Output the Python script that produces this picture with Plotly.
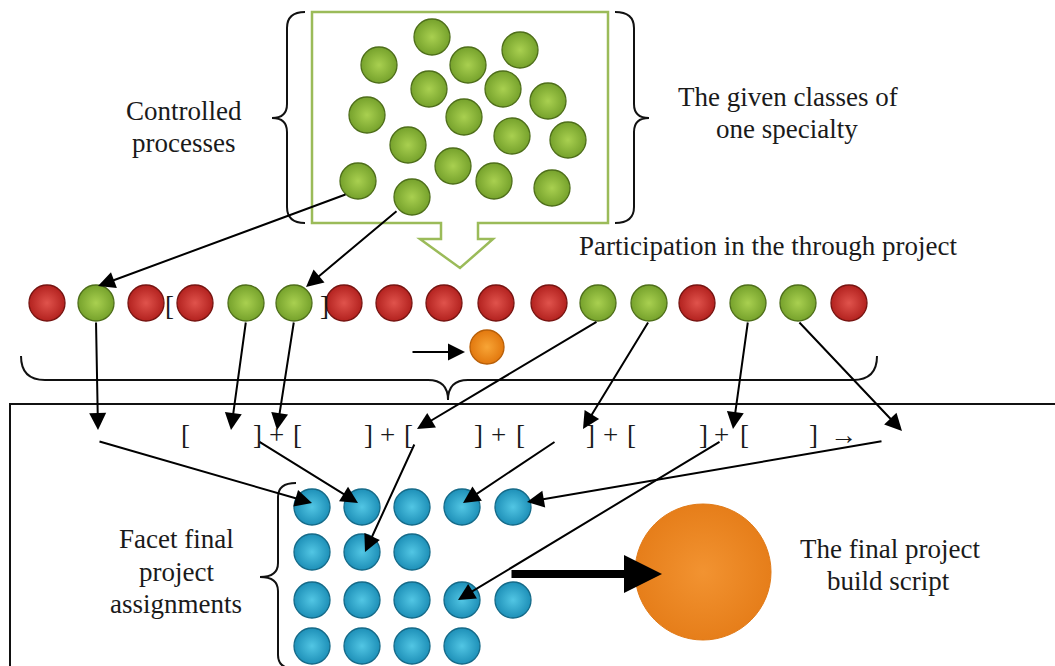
import plotly.graph_objects as go

# ---------------- data (diagram element positions, pixel space) ----------------
cluster_x = [432, 520, 379, 468, 429, 503, 548, 367, 464, 408, 512, 568, 453, 358, 494, 552, 412]
cluster_y = [37, 50, 65, 65, 89, 89, 101, 115, 117, 145, 136, 140, 166, 181, 181, 188, 197]

row_x = [47, 96, 146, 195, 246, 294, 344, 394, 444, 496, 549, 598, 649, 697, 748, 798, 849]
row_kind = ["r", "g", "r", "r", "g", "g", "r", "r", "r", "r", "r", "g", "g", "r", "g", "g", "r"]
row_y = 303

blue_x = [312, 362, 412, 462, 513,
          312, 362, 412,
          312, 362, 412, 462, 513,
          312, 362, 412, 462]
blue_y = [507] * 5 + [552] * 3 + [600] * 5 + [646] * 4

small_orange = (487, 347)
big_orange = (703, 572)

# thin arrows: tail -> head
arr_tail_x = [347, 398, 96, 246, 294, 598, 649, 748, 798, 98, 258, 415, 556, 721, 883, 411]
arr_tail_y = [194, 210, 321, 321, 321, 321, 321, 321, 321, 441, 441, 443, 441, 441, 441, 352]
arr_head_x = [98, 306, 98, 231, 277, 417, 583, 733, 902, 312, 358, 365, 463, 458, 527, 465]
arr_head_y = [286, 287, 430, 430, 430, 429, 429, 429, 431, 503, 503, 552, 503, 600, 502, 352]

formula_txt = ["[", "]", "+", "[", "]", "+", "[", "]", "+", "[", "]", "+", "[", "]", "+", "[", "]", "→"]
formula_x = [185, 257, 276, 297, 368, 387, 408, 478, 498, 520, 590, 610, 631, 703, 721, 744, 813, 843]
formula_y = 435

labels = [
    ("Controlled", 184, 111),
    ("processes", 183, 143),
    ("The given classes of", 788, 97),
    ("one specialty", 787, 129),
    ("Participation in the through project", 768, 246),
    ("Facet final", 176, 539),
    ("project", 176, 572),
    ("assignments", 176, 604),
    ("The final project", 890, 549),
    ("build script", 888, 581),
]

FONT = "Liberation Serif"

fig = go.Figure()

# --------------- shapes: frame, box with block arrow, braces ----------------
shapes = []
shapes.append(dict(type="rect", x0=10, y0=404, x1=1075, y1=700,
                   line=dict(color="#111", width=2), layer="below"))
shapes.append(dict(type="path",
                   path="M 312 12 L 608 12 L 608 223 L 478 223 L 478 239 L 493 239 L 460 268 "
                        "L 420 239 L 441 239 L 441 223 L 312 223 Z",
                   line=dict(color="#9BBB59", width=2.5), fillcolor="rgba(0,0,0,0)", layer="below"))
braces = [
    "M 305 12 Q 287 12 287 28 L 287 104 Q 287 118 272 118 Q 287 118 287 132 L 287 207 Q 287 223 305 223",
    "M 615 12 Q 634 12 634 28 L 634 104 Q 634 118 649 118 Q 634 118 634 132 L 634 207 Q 634 223 615 223",
    "M 21 356 Q 21 380 45 380 L 428 380 Q 448 380 448 400 Q 448 380 468 380 L 853 380 Q 877 380 877 356",
    "M 296 483 Q 278 483 278 497 L 278 563 Q 278 577 260 577 Q 278 577 278 591 L 278 655 Q 278 669 296 669",
]
for p in braces:
    shapes.append(dict(type="path", path=p, line=dict(color="#111", width=2), layer="below"))

# --------------- balls ----------------
def ball_trace(xs, ys, size, edge, center, outline, lw=1.3):
    return go.Scatter(x=xs, y=ys, mode="markers", hoverinfo="skip", showlegend=False,
                      marker=dict(size=size, color=edge,
                                  gradient=dict(type="radial", color=center),
                                  line=dict(color=outline, width=lw)))

GREEN = ("#76A22C", "#A9D050", "#4E6E1A")
RED = ("#B3221F", "#E0534C", "#761411")
BLUE = ("#1E90B8", "#52C6E4", "#156A88")

fig.add_trace(ball_trace(cluster_x, cluster_y, 36, *GREEN))
gx = [x for x, k in zip(row_x, row_kind) if k == "g"]
rx = [x for x, k in zip(row_x, row_kind) if k == "r"]
fig.add_trace(ball_trace(rx, [row_y] * len(rx), 36, *RED))
fig.add_trace(ball_trace(gx, [row_y] * len(gx), 36, *GREEN))
fig.add_trace(ball_trace(blue_x, blue_y, 36, *BLUE))
fig.add_trace(ball_trace([small_orange[0]], [small_orange[1]], 34, "#E2780E", "#F8A536", "#B85F08"))
fig.add_trace(ball_trace([big_orange[0]], [big_orange[1]], 136, "#E67E1A", "#F29331", "#E07A18", 1))

# --------------- arrows ----------------
ann = []
for tx, ty, hx, hy in zip(arr_tail_x, arr_tail_y, arr_head_x, arr_head_y):
    ann.append(dict(x=hx, y=hy, ax=tx, ay=ty, xref="x", yref="y", axref="x", ayref="y",
                    text="", showarrow=True, arrowhead=2, arrowsize=1.7, arrowwidth=2,
                    arrowcolor="#000", standoff=0, startstandoff=0))
# thick arrow to the final script
ann.append(dict(x=662, y=574, ax=510, ay=574, xref="x", yref="y", axref="x", ayref="y",
                text="", showarrow=True, arrowhead=2, arrowsize=0.95, arrowwidth=8,
                arrowcolor="#000", standoff=0))

# --------------- text ----------------
for t, x, y in labels:
    ann.append(dict(x=x, y=y, xref="x", yref="y", text=t, showarrow=False,
                    font=dict(family=FONT, size=27, color="#1a1a1a"),
                    xanchor="center", yanchor="middle"))
for t, x in zip(formula_txt, formula_x):
    ann.append(dict(x=x, y=formula_y, xref="x", yref="y", text=t, showarrow=False,
                    font=dict(family=FONT, size=27, color="#1a1a1a"),
                    xanchor="center", yanchor="middle"))
ann.append(dict(x=169, y=306, xref="x", yref="y", text="[", showarrow=False,
                font=dict(family=FONT, size=27, color="#1a1a1a")))
ann.append(dict(x=324, y=306, xref="x", yref="y", text="]", showarrow=False,
                font=dict(family=FONT, size=27, color="#1a1a1a")))

fig.update_layout(
    width=1055, height=666, autosize=False,
    margin=dict(l=0, r=0, t=0, b=0),
    paper_bgcolor="white", plot_bgcolor="white",
    xaxis=dict(range=[0, 1055], visible=False, fixedrange=True),
    yaxis=dict(range=[666, 0], visible=False, fixedrange=True),
    shapes=shapes, annotations=ann,
)

fig.write_html("out.html", config={"displayModeBar": False},
               post_script="document.body.style.margin='0';")
